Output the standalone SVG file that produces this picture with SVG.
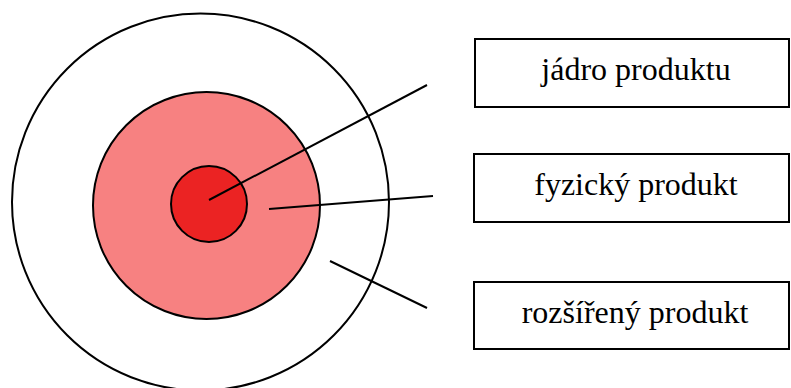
<svg xmlns="http://www.w3.org/2000/svg" width="791" height="388" viewBox="0 0 791 388">
<style>
.c{stroke:#000;stroke-width:2}
.b{fill:#fff;stroke:#000;stroke-width:2}
.t{font-family:"Liberation Serif","Times New Roman",serif;font-size:32px;fill:#000;text-anchor:middle}
.l{stroke:#000;stroke-width:2;fill:none}
</style>
<rect width="791" height="388" fill="#fff"/>
<g id="outer"><circle class="c" cx="200.5" cy="202" r="188.5" fill="#fff"/></g>
<g id="middle"><circle class="c" cx="206.5" cy="205.5" r="113.5" fill="#F78181"/></g>
<g id="inner"><circle class="c" cx="209" cy="204" r="38" fill="#EB2323"/></g>
<g id="connectors">
<line class="l" x1="209" y1="200" x2="427" y2="85"/>
<line class="l" x1="269" y1="209" x2="433" y2="196"/>
<line class="l" x1="330" y1="261" x2="427" y2="308"/>
</g>
<g id="box1"><rect class="b" x="475" y="39" width="314" height="68"/><text class="t" x="636" y="80">jádro produktu</text></g>
<g id="box2"><rect class="b" x="474" y="154" width="315" height="68"/><text class="t" x="636" y="195">fyzický produkt</text></g>
<g id="box3"><rect class="b" x="474" y="282" width="315" height="67"/><text class="t" x="635" y="323">rozšířený produkt</text></g>
</svg>
